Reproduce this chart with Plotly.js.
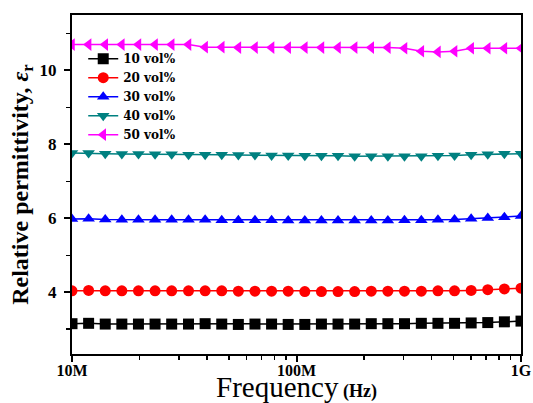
<!DOCTYPE html>
<html>
<head>
<meta charset="utf-8">
<script src="https://cdn.plot.ly/plotly-3.0.1.min.js"></script>
<style>html,body{margin:0;padding:0;background:#fff;}#chart{width:533px;height:403px;}</style>
</head>
<body>
<div id="chart"></div>
<script>
const exponents = [7.000,7.074,7.148,7.222,7.296,7.370,7.444,7.519,7.593,7.667,7.741,7.815,7.889,7.963,
                   8.037,8.111,8.185,8.259,8.333,8.407,8.481,8.556,8.630,8.704,8.778,8.852,8.926,9.000];
const freq = exponents.map(e => Math.pow(10, e));

const seriesNames = ['10 vol%', '20 vol%', '30 vol%', '40 vol%', '50 vol%'];
const vol10 = [3.15,3.16,3.14,3.14,3.14,3.14,3.14,3.14,3.15,3.14,3.13,3.14,3.14,3.13,
               3.13,3.14,3.14,3.14,3.15,3.15,3.15,3.16,3.16,3.16,3.17,3.18,3.20,3.22];
const vol20 = [4.04,4.05,4.04,4.04,4.04,4.04,4.04,4.04,4.04,4.04,4.03,4.03,4.03,4.03,
               4.02,4.02,4.02,4.02,4.03,4.03,4.03,4.03,4.04,4.04,4.05,4.07,4.09,4.11];
const vol30 = [5.98,5.99,5.97,5.96,5.96,5.96,5.96,5.96,5.96,5.95,5.95,5.95,5.95,5.94,
               5.94,5.94,5.94,5.94,5.94,5.94,5.95,5.95,5.96,5.97,5.99,6.01,6.03,6.06];
const vol40 = [7.77,7.77,7.75,7.74,7.74,7.73,7.73,7.72,7.72,7.72,7.71,7.71,7.70,7.70,
               7.69,7.69,7.69,7.68,7.68,7.68,7.68,7.68,7.69,7.70,7.72,7.73,7.75,7.75];
const vol50 = [10.70,10.70,10.70,10.70,10.70,10.70,10.70,10.70,10.63,10.63,10.62,10.62,10.62,10.62,
               10.62,10.62,10.62,10.62,10.62,10.62,10.60,10.52,10.50,10.52,10.60,10.60,10.60,10.60];

const colors = ['#000000', '#ff0000', '#0000ff', '#008080', '#ff00ff'];
const symbols = ['square', 'circle', 'triangle-up', 'triangle-down', 'triangle-left'];
const values = [vol10, vol20, vol30, vol40, vol50];

const xTickVals = [1e7, 1e8, 1e9];
const xTickText = ['10M', '100M', '1G'];
const xMinor = [];
[1e7, 1e8].forEach(d => { for (let k = 2; k <= 9; k++) xMinor.push(k * d); });

const traces = values.map((v, i) => ({
  x: freq, y: v, name: seriesNames[i], type: 'scatter', mode: 'lines+markers',
  line: {color: colors[i], width: 1.5},
  marker: {color: colors[i], symbol: symbols[i], size: 11}
}));

const layout = {
  width: 533, height: 403,
  margin: {l: 72, r: 12, t: 15, b: 49},
  paper_bgcolor: '#ffffff', plot_bgcolor: '#ffffff',
  font: {family: 'Liberation Serif, Times New Roman, serif', color: '#000'},
  showlegend: true,
  legend: {x: 0.025, y: 0.914, xanchor: 'left', yanchor: 'top', bgcolor: 'rgba(0,0,0,0)',
           font: {size: 12, family: 'DejaVu Serif', weight: 'bold'}, tracegroupgap: 0},
  xaxis: {
    type: 'log', range: [7, 9],
    tickvals: xTickVals, ticktext: xTickText,
    ticks: 'outside', ticklen: 6, tickwidth: 2, tickcolor: '#000',
    minor: {tickvals: xMinor, ticks: 'outside', ticklen: 4, tickwidth: 1.5, tickcolor: '#000'},
    showline: true, linewidth: 2, linecolor: '#000', mirror: true,
    showgrid: false, zeroline: false,
    ticklabelstandoff: -5,
    tickfont: {size: 16, family: 'Liberation Serif', weight: 'bold'},
    title: {text: 'Frequency<span style="font-size:18px;font-weight:bold"> (Hz)</span>',
            font: {size: 29, family: 'Liberation Serif'}, standoff: 5}
  },
  yaxis: {
    range: [2.33, 11.5],
    tickvals: [4, 6, 8, 10],
    ticks: 'outside', ticklen: 6, tickwidth: 2, tickcolor: '#000',
    minor: {tickvals: [3, 5, 7, 9, 11], ticks: 'outside', ticklen: 4, tickwidth: 1.5, tickcolor: '#000'},
    showline: true, linewidth: 2, linecolor: '#000', mirror: true,
    showgrid: false, zeroline: false,
    ticklabelstandoff: 4,
    tickfont: {size: 17, family: 'Liberation Serif', weight: 'bold'},
    title: {text: 'Relative permittivity, <i>ε</i><sub>r</sub>',
            font: {size: 24, family: 'Liberation Serif', weight: 'bold'}, standoff: 4}
  }
};

Plotly.newPlot('chart', traces, layout, {displayModeBar: false, staticPlot: true});
</script>
</body>
</html>
